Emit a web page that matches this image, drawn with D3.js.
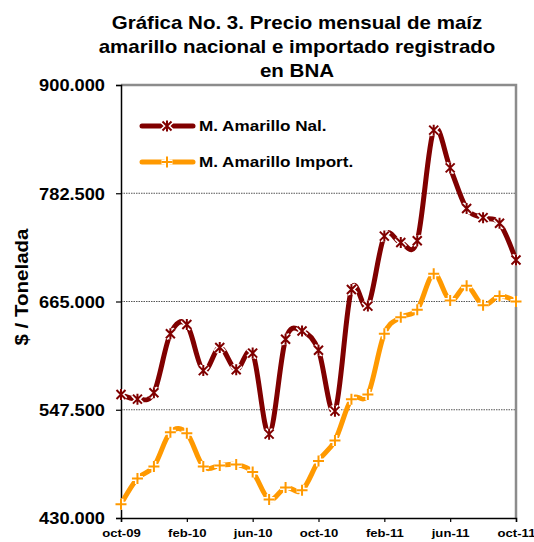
<!DOCTYPE html>
<html>
<head>
<meta charset="utf-8">
<script src="https://cdn.jsdelivr.net/npm/d3@7"></script>
<style>
  body { margin: 0; background: #fff; }
  text { font-family: "Liberation Sans", Arial, sans-serif; font-weight: bold; fill: #000; }
</style>
</head>
<body>
<div id="chart"></div>
<script>
'use strict';

// Data
let months = ['oct-09','nov-09','dic-09','ene-10','feb-10','mar-10','abr-10','may-10','jun-10','jul-10','ago-10','sep-10',
  'oct-10','nov-10','dic-10','ene-11','feb-11','mar-11','abr-11','may-11','jun-11','jul-11','ago-11','sep-11','oct-11'];
let nacional = [564, 559, 566, 630, 640, 590, 615, 591, 609, 521, 624, 633, 612, 546, 678, 660, 736, 729, 731, 851, 810, 766, 756, 750, 710];
let importado = [445, 473, 486, 523, 522, 486, 487, 488, 480, 450, 463, 460, 492, 514, 559, 564, 630, 648, 656, 695, 666, 682, 661, 671, 665];
let yTicks = [430, 547.5, 665, 782.5, 900];
let xLabels = ['oct-09','feb-10','jun-10','oct-10','feb-11','jun-11','oct-11'];
let titleLines = ['Gráfica No. 3. Precio mensual de maíz', 'amarillo nacional e importado registrado', 'en BNA'];
let seriesNames = ['M. Amarillo Nal.', 'M. Amarillo Import.'];

// Formatting
let format = {
  width: 534,
  height: 542,
  left: 121,
  right: 516,
  top: 85,
  bottom: 518,
};
let stretch = 1.14;
let nalColor = '#800000';
let impColor = '#ff9900';

let starPath = 'M-4.5,-4.5L4.5,4.5M-4.5,4.5L4.5,-4.5M0,-5.5L0,5.5';
let plusPath = 'M-5.5,0L5.5,0M0,-5.5L0,5.5';

let svg = d3.select('#chart').append('svg')
  .attr('width', format.width)
  .attr('height', format.height);

let xScale = d3.scalePoint()
  .domain(months)
  .range([format.left, format.right]);

let yScale = d3.scaleLinear()
  .domain([430, 900])
  .range([format.bottom, format.top]);

// Title
svg.selectAll('text.title')
  .data(titleLines)
  .enter()
  .append('text')
  .attr('class', 'title')
  .attr('text-anchor', 'middle')
  .attr('font-size', 18)
  .attr('transform', (d, i) => `translate(297,${29 + i * 24}) scale(${stretch},1)`)
  .text(d => d);

// Grid lines
svg.selectAll('line.grid')
  .data(yTicks.slice(1, 4))
  .enter()
  .append('line')
  .attr('x1', format.left)
  .attr('x2', format.right)
  .attr('y1', d => yScale(d))
  .attr('y2', d => yScale(d))
  .attr('stroke', '#555')
  .attr('stroke-width', 1)
  .attr('stroke-dasharray', '1.5,1');

// Plot area border (top and right, gray)
svg.append('path')
  .attr('d', `M${format.left},${format.top}H${format.right}V${format.bottom}`)
  .attr('fill', 'none')
  .attr('stroke', '#8c8c8c')
  .attr('stroke-width', 2.5);

// Axes
let yAxis = d3.axisLeft(yScale)
  .tickValues(yTicks)
  .tickSize(5)
  .tickFormat(d => d3.format('.3f')(d));

let yAxisG = svg.append('g')
  .attr('transform', `translate(${format.left},0)`)
  .call(yAxis);
yAxisG.select('.domain').attr('stroke', '#000').attr('stroke-width', 1.5);
yAxisG.selectAll('.tick line').attr('stroke', '#000').attr('stroke-width', 1.2);
yAxisG.selectAll('.tick text')
  .attr('font-size', 16)
  .attr('font-family', null)
  .attr('x', null)
  .attr('dy', '0.36em')
  .attr('transform', `translate(-16,0) scale(${stretch},1)`);

let xAxis = d3.axisBottom(xScale)
  .tickValues(xLabels)
  .tickSize(4);

let xAxisG = svg.append('g')
  .attr('transform', `translate(0,${format.bottom})`)
  .call(xAxis);
xAxisG.select('.domain').attr('stroke', '#000').attr('stroke-width', 1.5);
xAxisG.selectAll('.tick line').attr('stroke', '#000').attr('stroke-width', 1.2);
xAxisG.selectAll('.tick text')
  .attr('font-size', 11.5)
  .attr('font-family', null)
  .attr('y', null)
  .attr('dy', null)
  .attr('transform', `translate(0,19) scale(${stretch},1)`);

// Y axis title
svg.append('text')
  .attr('font-size', 18)
  .attr('text-anchor', 'middle')
  .attr('transform', `translate(28,287) rotate(-90) scale(${stretch},1)`)
  .text('$ / Tonelada');

// Series
let line = d3.line()
  .x((d, i) => xScale(months[i]))
  .y(d => yScale(d))
  .curve(d3.curveCardinal.tension(0));

function drawSeries(values, color, shape){
  svg.append('path')
    .datum(values)
    .attr('d', line)
    .attr('fill', 'none')
    .attr('stroke', color)
    .attr('stroke-width', 5)
    .attr('stroke-linejoin', 'round');

  let marks = svg.append('g');
  marks.selectAll('path.halo')
    .data(values)
    .enter()
    .append('path')
    .attr('transform', (d, i) => `translate(${xScale(months[i])},${yScale(d)})`)
    .attr('d', shape)
    .attr('stroke', '#fff')
    .attr('stroke-width', 5);
  marks.selectAll('path.mark')
    .data(values)
    .enter()
    .append('path')
    .attr('transform', (d, i) => `translate(${xScale(months[i])},${yScale(d)})`)
    .attr('d', shape)
    .attr('stroke', color)
    .attr('stroke-width', 2);
}

drawSeries(importado, impColor, plusPath);
drawSeries(nacional, nalColor, starPath);

// Legend
let legendItems = [
  {name: seriesNames[0], color: nalColor, shape: starPath, y: 126},
  {name: seriesNames[1], color: impColor, shape: plusPath, y: 162},
];

let legend = svg.selectAll('g.legend')
  .data(legendItems)
  .enter()
  .append('g')
  .attr('transform', d => `translate(0,${d.y})`);

legend.append('line')
  .attr('x1', 142)
  .attr('x2', 193)
  .attr('stroke', d => d.color)
  .attr('stroke-width', 5)
  .attr('stroke-linecap', 'round');
legend.append('path')
  .attr('transform', 'translate(167,0)')
  .attr('d', d => d.shape)
  .attr('stroke', '#fff')
  .attr('stroke-width', 5);
legend.append('path')
  .attr('transform', 'translate(167,0)')
  .attr('d', d => d.shape)
  .attr('stroke', d => d.color)
  .attr('stroke-width', 2);
legend.append('text')
  .attr('font-size', 15)
  .attr('dy', '0.36em')
  .attr('transform', `translate(199,0) scale(${stretch},1)`)
  .text(d => d.name);
</script>
</body>
</html>
